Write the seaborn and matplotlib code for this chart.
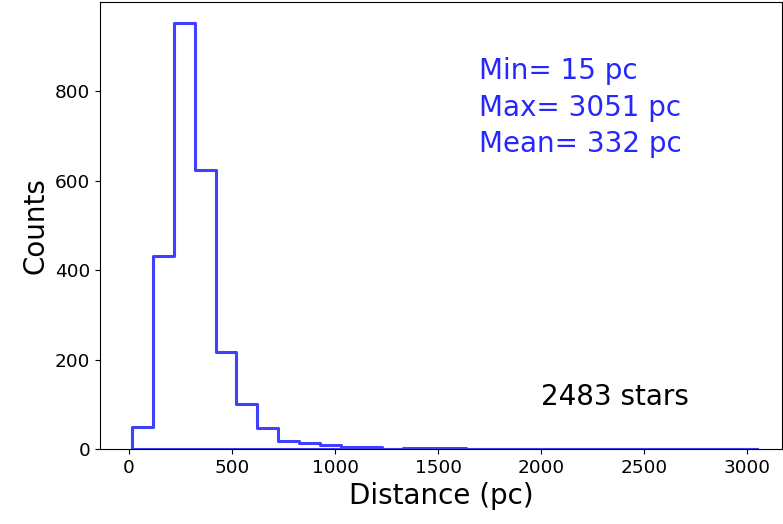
import numpy as np
import pandas as pd
import matplotlib
matplotlib.use("Agg")
import matplotlib.pyplot as plt
import seaborn as sns

# Data
d_min = 15
d_max = 3051
d_mean = 332
n_stars = 2483
n_bins = 30
counts = [50, 432, 952, 625, 216, 100, 46, 18, 13, 9, 5, 4, 0, 3, 3, 3, 1, 0,
          1, 0, 0, 1, 0, 0, 0, 0, 0, 0, 0, 1]

edges = np.linspace(d_min, d_max, n_bins + 1)
centers = 0.5 * (edges[:-1] + edges[1:])
df = pd.DataFrame({"distance": centers, "count": counts})

fig = plt.figure(figsize=(7.83, 5.24), dpi=100)
ax = fig.add_axes([100 / 783, 1 - 449 / 524, 682 / 783, 447 / 524])

blue = (0.0, 0.0, 1.0)
sns.histplot(data=df, x="distance", weights="count", bins=n_bins,
             binrange=(d_min, d_max),
             element="step", fill=True, color=blue,
             alpha=0.75, linewidth=2.2, ax=ax)
for coll in ax.collections:
    coll.set_facecolor("none")
    coll.set_edgecolor((0.0, 0.0, 1.0, 0.75))
    coll.set_linewidth(2.2)

ax.set_xlabel("Distance (pc)", fontsize=20)
ax.set_ylabel("Counts", fontsize=20)
ax.tick_params(labelsize=13.3)
ax.set_xticks([0, 500, 1000, 1500, 2000, 2500, 3000])
ax.set_yticks([0, 200, 400, 600, 800])
ax.set_xlim(-141, 3170)
ax.set_ylim(0, 1000)

txt_col = (0.15, 0.15, 1.0)
ax.text(1700, 827, f"Min= {d_min} pc", color=txt_col, fontsize=20, va="baseline")
ax.text(1700, 745, f"Max= {d_max} pc", color=txt_col, fontsize=20, va="baseline")
ax.text(1700, 664, f"Mean= {d_mean} pc", color=txt_col, fontsize=20, va="baseline")
ax.text(2000, 99, f"{n_stars} stars", color="black", fontsize=20, va="baseline")

fig.savefig("out.png", dpi=100)
